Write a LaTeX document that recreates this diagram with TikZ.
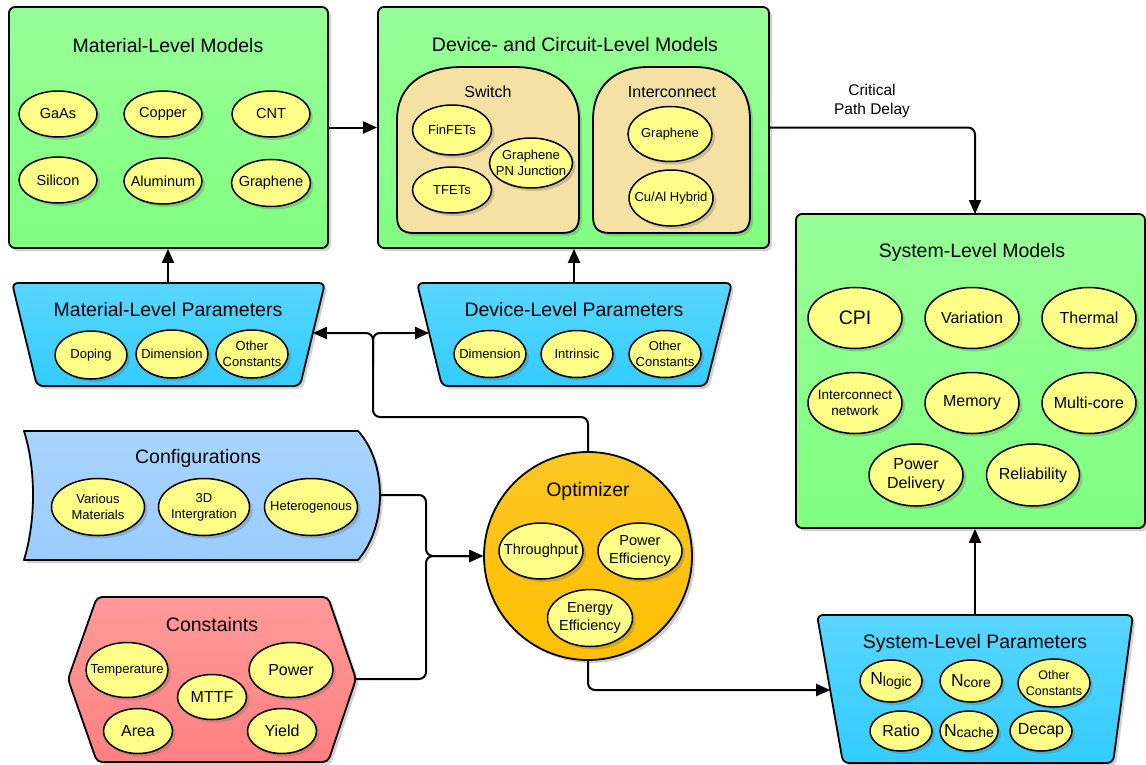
\documentclass[tikz,border=0pt]{standalone}
\usepackage{fontspec}
\setmainfont{Liberation Sans}
\usetikzlibrary{arrows.meta,shadows,shapes.geometric}
\definecolor{grn}{HTML}{80FF80}
\definecolor{grnl}{HTML}{98FF98}
\definecolor{ylw}{HTML}{FFFF88}
\definecolor{beige}{HTML}{F6E1A4}
\definecolor{cyn}{HTML}{33CCFF}
\definecolor{cynl}{HTML}{58D6FF}
\definecolor{cfg}{HTML}{99CCFF}
\definecolor{cfgl}{HTML}{A8D4FF}
\definecolor{rd}{HTML}{FF8080}
\definecolor{rdl}{HTML}{FF9A9A}
\definecolor{org}{HTML}{FFC000}
\definecolor{orgl}{HTML}{FCC624}
\newcommand\fsz[1]{\fontsize{#1}{#1}\selectfont\baselineskip=1.22\baselineskip}
\tikzset{
  shd/.style={drop shadow={shadow xshift=3pt,shadow yshift=-3pt,opacity=0.3,fill=black!60}},
  etext/.style={align=center,inner sep=0pt},
  ell/.style n args={4}{ellipse,draw,line width=1.5pt,fill=ylw,inner sep=0pt,
    minimum width=#1pt,minimum height=#2pt,shd,label={[etext,font=\fsz{#3}]center:#4}},
  ttl/.style={font=\fsz{19.5},inner sep=0pt},
  sub/.style={font=\fsz{16},inner sep=0pt},
  gbox/.style={draw,line width=1.8pt,rounded corners=6pt,top color=grnl,bottom color=grn,shd,inner sep=0pt},
  bshape/.style={draw,line width=1.8pt,line join=round,shd},
  conn/.style={line width=2pt,rounded corners=7pt},
  arr/.style={conn,-{Triangle[length=14pt,width=12pt]}},
}
\begin{document}
\begin{tikzpicture}[x=1pt,y=-1pt]
\useasboundingbox (0,0) rectangle (1146,764);

% ---------- Material-Level Models ----------
\node[gbox,minimum width=319pt,minimum height=241pt] (matm) at (168.5,127.5) {};
\node[ttl] (matmt) at (168,46) {Material-Level Models};
\node[ell={78}{46}{14.5}{GaAs}] (gaas) at (58,114) {};
\node[ell={78}{46}{14.5}{Copper}] (copper) at (163,114) {};
\node[ell={78}{46}{14.5}{CNT}] (cnt) at (271,114) {};
\node[ell={78}{46}{14.5}{Silicon}] (silicon) at (58,180) {};
\node[ell={78}{46}{14.5}{Aluminum}] (alu) at (163,181) {};
\node[ell={79}{47}{14.5}{Graphene}] (graph1) at (271,183) {};

% ---------- Device- and Circuit-Level Models ----------
\node[gbox,minimum width=391pt,minimum height=241pt] (devm) at (573.5,127.5) {};
\node[ttl] (devmt) at (575,45) {Device- and Circuit-Level Models};
\draw[bshape,fill=beige] (397,120) .. controls (397,84) and (425,67) .. (462,67) -- (514,67)
  .. controls (551,67) and (579,84) .. (579,120) -- (579,216) .. controls (579,228) and (574,233) .. (562,233)
  -- (414,233) .. controls (402,233) and (397,228) .. (397,216) -- cycle;
\node[sub] (swt) at (488,92) {Switch};
\draw[bshape,fill=beige] (593,120) .. controls (593,84) and (617,67) .. (648,67) -- (695,67)
  .. controls (726,67) and (750,84) .. (750,120) -- (750,216) .. controls (750,228) and (745,233) .. (733,233)
  -- (610,233) .. controls (598,233) and (593,228) .. (593,216) -- cycle;
\node[sub] (ict) at (672,92) {Interconnect};
\node[ell={79}{50}{13}{FinFETs}] (finfet) at (452,130) {};
\node[ell={79}{46}{13}{TFETs}] (tfet) at (452,190) {};
\node[ell={83}{50}{13}{Graphene\\PN Junction}] (gpn) at (531,163) {};
\node[ell={84}{55}{13}{Graphene}] (graph2) at (670,134) {};
\node[ell={84}{56}{13}{Cu/Al Hybrid}] (cual) at (671,198) {};

% ---------- System-Level Models ----------
\node[gbox,minimum width=349pt,minimum height=314pt] (sysm) at (970.5,371) {};
\node[ttl] (sysmt) at (972,252) {System-Level Models};
\node[ell={94}{61}{19.5}{CPI}] (cpi) at (855,318) {};
\node[ell={94}{61}{16}{Variation}] (var) at (972,318) {};
\node[ell={94}{61}{16}{Thermal}] (therm) at (1089,318) {};
\node[ell={94}{61}{13.5}{Interconnect\\network}] (icn) at (855,403) {};
\node[ell={94}{61}{16}{Memory}] (mem) at (972,403) {};
\node[ell={94}{61}{16}{Multi-core}] (mc) at (1089,403) {};
\node[ell={94}{62}{16}{Power\\Delivery}] (pd) at (916,475) {};
\node[ell={93}{62}{16}{Reliability}] (rel) at (1033,475) {};

% ---------- Material-Level Parameters ----------
\draw[bshape,top color=cynl,bottom color=cyn,rounded corners=6pt] (12,283) -- (325,283) -- (300,386) -- (37,386) -- cycle;
\coordinate (matpT) at (168,283);
\coordinate (matpR) at (312.9,333);
\node[ttl] (matpt) at (168,310) {Material-Level Parameters};
\node[ell={72}{48}{13}{Doping}] (doping) at (91,355) {};
\node[ell={72}{48}{13}{Dimension}] (dim1) at (172,354) {};
\node[ell={72}{48}{13}{Other\\Constants}] (oc1) at (252,354) {};

% ---------- Device-Level Parameters ----------
\draw[bshape,top color=cynl,bottom color=cyn,rounded corners=6pt] (417,283) -- (732,283) -- (706,386) -- (442,386) -- cycle;
\coordinate (devpT) at (574,283);
\coordinate (devpL) at (429.1,333);
\node[ttl] (devpt) at (574,310) {Device-Level Parameters};
\node[ell={72}{47}{13}{Dimension}] (dim2) at (490,354) {};
\node[ell={72}{47}{13}{Intrinsic}] (intr) at (577,354) {};
\node[ell={72}{47}{13}{Other\\Constants}] (oc2) at (665,354) {};

% ---------- Configurations ----------
\draw[bshape,top color=cfgl,bottom color=cfg] (24,431) -- (358,431)
  .. controls (372,446) and (380,470) .. (380,495)
  .. controls (380,520) and (372,544) .. (358,560) -- (24,560)
  .. controls (30,540) and (33,518) .. (33,495)
  .. controls (33,472) and (30,450) .. (24,431) -- cycle;
\coordinate (cfgR) at (380,495);
\node[ttl] (cfgt) at (198,458) {Configurations};
\node[ell={93}{57}{13}{Various\\Materials}] (vm) at (98,507) {};
\node[ell={91}{57}{13}{3D\\Intergration}] (threed) at (204,507) {};
\node[ell={93}{57}{13}{Heterogenous}] (het) at (311,507) {};

% ---------- Constaints ----------
\draw[bshape,top color=rdl,bottom color=rd,rounded corners=5pt] (97,597) -- (328,597) -- (356,679) -- (328,762) -- (97,762) -- (68,679) -- cycle;
\coordinate (consR) at (356,679);
\node[ttl] (const) at (212,625) {Constaints};
\node[ell={82}{55}{13}{Temperature}] (temp) at (127,670) {};
\node[ell={84}{55}{16}{Power}] (power) at (291,670) {};
\node[ell={69}{45}{16}{MTTF}] (mttf) at (212,697) {};
\node[ell={69}{45}{16}{Area}] (area) at (138,731) {};
\node[ell={69}{45}{16}{Yield}] (yield) at (282,731) {};

% ---------- Optimizer ----------
\node[circle,draw,line width=1.8pt,minimum size=208pt,inner sep=0pt,top color=orgl,bottom color=org,shd] (opt) at (588,556) {};
\node[ttl] (optt) at (588,491) {Optimizer};
\node[ell={84}{56}{14.5}{Throughput}] (thr) at (541,551) {};
\node[ell={84}{56}{14.5}{Power\\Efficiency}] (pe) at (640,551) {};
\node[ell={85}{57}{14.5}{Energy\\Efficiency}] (ee) at (590,618) {};

% ---------- System-Level Parameters ----------
\draw[bshape,top color=cynl,bottom color=cyn,rounded corners=6pt] (817,615) -- (1133,615) -- (1113,763) -- (843,763) -- cycle;
\coordinate (syspT) at (975,615);
\coordinate (syspL) at (830.2,690);
\node[ttl] (syspt) at (975,643) {System-Level Parameters};
\node[ell={62}{42}{17.5}{N\raisebox{-1.5pt}{\fsz{14}logic}}] (nlogic) at (891,681) {};
\node[ell={62}{42}{17.5}{N\raisebox{-1.5pt}{\fsz{14}core}}] (ncore) at (971,681) {};
\node[ell={72}{48}{12.5}{Other\\Constants}] (oc3) at (1054,683) {};
\node[ell={62}{40}{16}{Ratio}] (ratio) at (901,731) {};
\node[ell={58}{40}{17.5}{N\raisebox{-1.5pt}{\fsz{14}cache}}] (ncache) at (969,731) {};
\node[ell={62}{40}{16}{Decap}] (decap) at (1041,731) {};

% ---------- Label ----------
\node[font=\fsz{15.5},align=center,inner sep=0pt] (cpd) at (872,101) {Critical\\Path Delay};

% ---------- Connectors ----------
\coordinate (sysin) at (975,214);
\coordinate (jt) at (373,333);
\coordinate (jb) at (373,417);
\coordinate (jc) at (426,556);
\draw[arr] (matm.east) -- (devm.west);
\draw[arr] (devm.east) -| (sysin);
\draw[arr] (matpT) -- (matpT |- matm.south);
\draw[arr] (devpT) -- (devpT |- devm.south);
\draw[arr] (syspT) -- (syspT |- sysm.south);
\draw[arr] (opt.north) |- (jb) -- (jt) -- (matpR);
\draw[arr] (373,365) -- (jt) -- (devpL);
\draw[arr] (cfgR) -- (426,495) -- (jc) -- (opt.west);
\draw[arr] (consR) -- (426,679) -- (jc) -- (opt.west);
\draw[arr] (opt.south) |- (syspL);
\end{tikzpicture}
\end{document}
